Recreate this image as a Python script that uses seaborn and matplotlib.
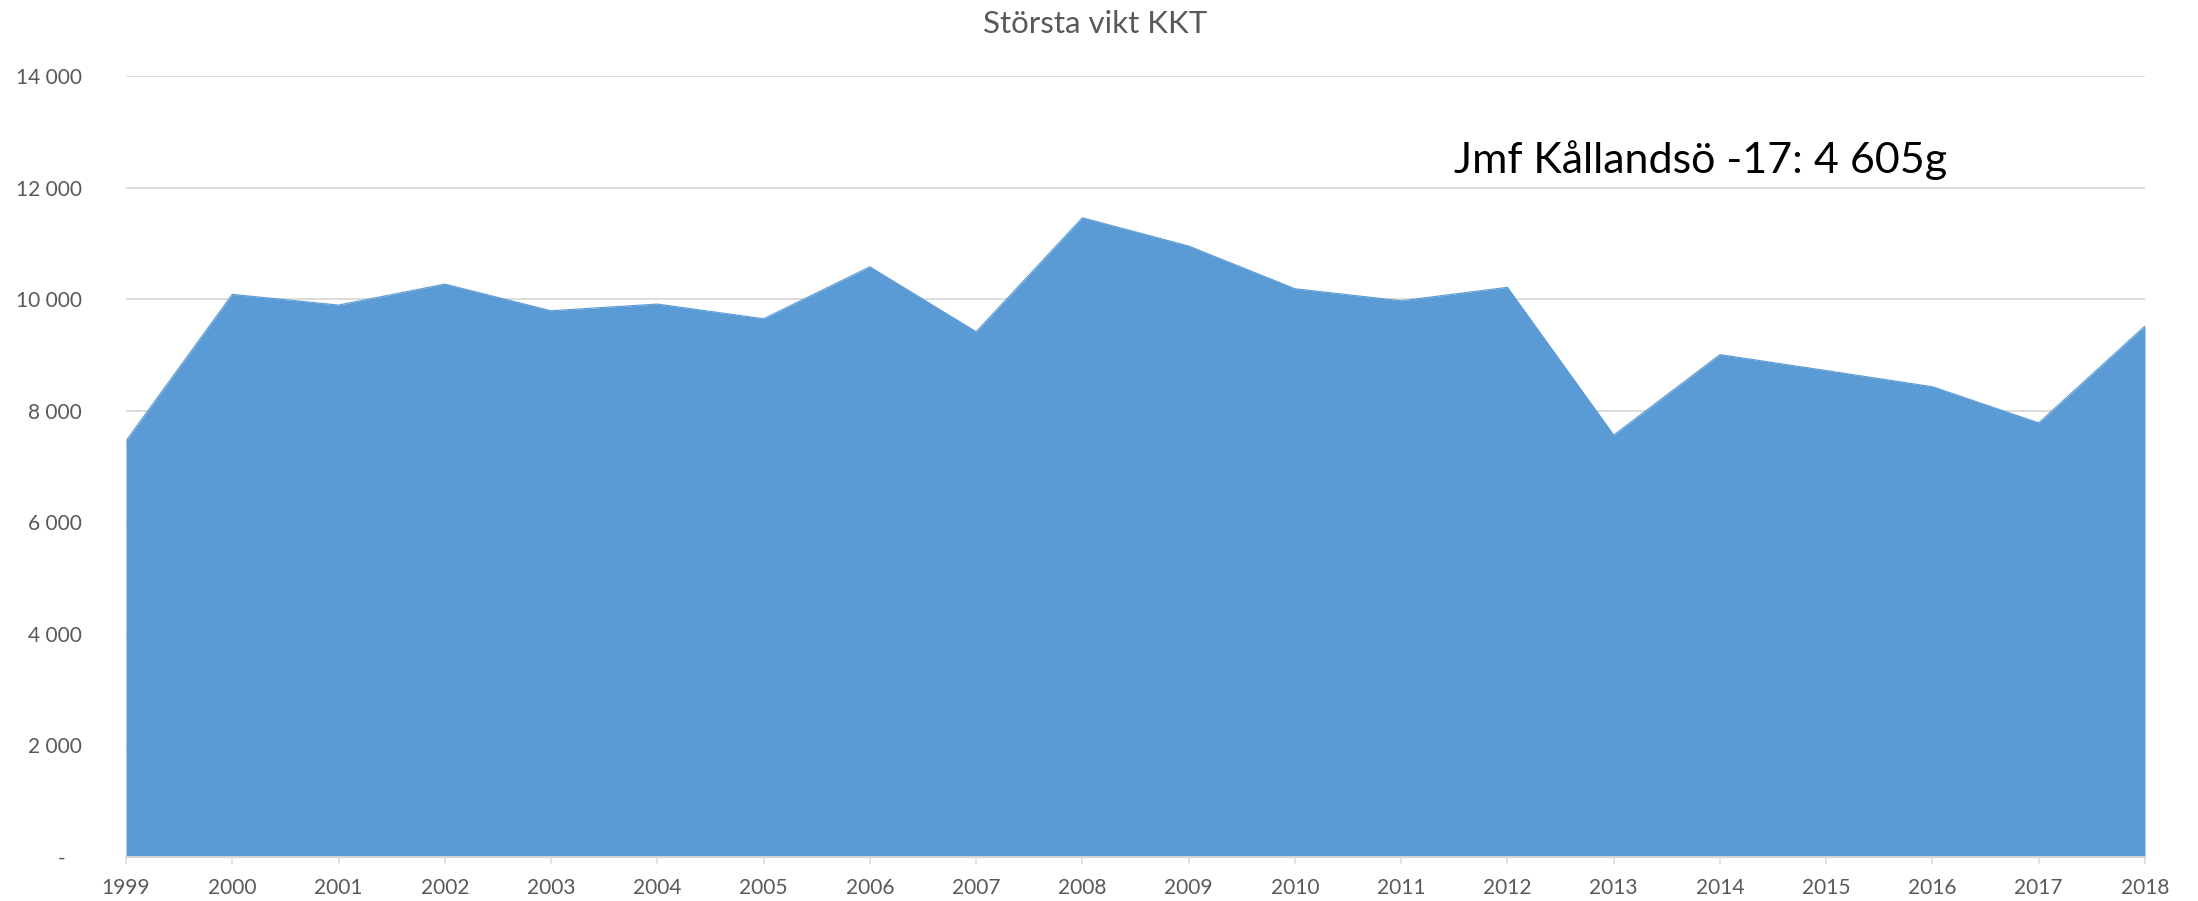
import matplotlib
matplotlib.use("Agg")
import matplotlib.pyplot as plt
import seaborn as sns
import pandas as pd

years = [1999, 2000, 2001, 2002, 2003, 2004, 2005, 2006, 2007, 2008,
         2009, 2010, 2011, 2012, 2013, 2014, 2015, 2016, 2017, 2018]
max_weight = [7460, 10086, 9894, 10270, 9792, 9912, 9649, 10580, 9416, 11459,
              10952, 10187, 9971, 10212, 7564, 9006, 8720, 8430, 7782, 9520]
y_ticks = [0, 2000, 4000, 6000, 8000, 10000, 12000, 14000]
y_tick_labels = ["-   ", "2 000", "4 000", "6 000", "8 000", "10 000", "12 000", "14 000"]
title = "Största vikt KKT"
note = "Jmf Kållandsö -17: 4 605g"

df = pd.DataFrame({"year": years, "weight": max_weight})

sns.set_theme(style="white")
plt.rcParams["font.family"] = ["Lato", "DejaVu Sans"]

fill_color = "#5B9BD5"
grid_color = "#D9D9D9"
text_color = "#595959"

fig = plt.figure(figsize=(21.98, 9.01), dpi=100)
ax = fig.add_axes([126 / 2198, 1 - 857 / 901, (2145 - 126) / 2198, (857 - 76) / 901])

sns.lineplot(data=df, x="year", y="weight", color=fill_color, linewidth=0.8, ax=ax, zorder=3)
ax.fill_between(df["year"], df["weight"], 0, color=fill_color, linewidth=0, zorder=3)

ax.set_xlim(years[0], years[-1])
ax.set_ylim(0, 14000)
ax.set_xticks(years)
ax.set_xticklabels([str(y) for y in years])
ax.set_yticks(y_ticks)
ax.set_yticklabels(y_tick_labels)
ax.set_xlabel("")
ax.set_ylabel("")

ax.set_axisbelow(True)
ax.yaxis.grid(True, color=grid_color, linewidth=1.3, zorder=0)
ax.xaxis.grid(False)

for s in ["top", "right", "left"]:
    ax.spines[s].set_visible(False)
ax.spines["bottom"].set_color(grid_color)
ax.spines["bottom"].set_linewidth(1.3)
ax.spines["bottom"].set_zorder(4)

ax.tick_params(axis="x", which="both", bottom=True, length=5, width=1.1, color=grid_color,
               labelsize=15, labelcolor=text_color, pad=10)
ax.tick_params(axis="y", which="both", left=False, length=0, labelsize=15,
               labelcolor=text_color, pad=32)

fig.text(1095 / 2198, 1 - 33 / 901, title, ha="center", va="baseline",
         fontsize=22.5, color=text_color)

ax.text(2011.5, 12260, note, ha="left", va="baseline", fontsize=31, color="black")

fig.savefig("out.png", dpi=100, facecolor="white")
